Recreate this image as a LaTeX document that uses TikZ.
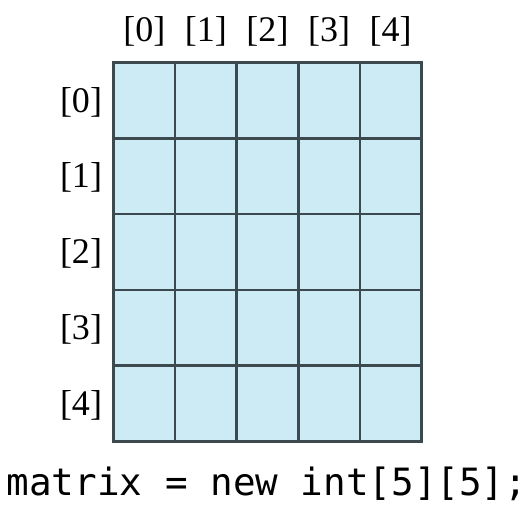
\documentclass[tikz,border=0pt]{standalone}
\usepackage{fontspec}
\setmainfont{Liberation Serif}
\setmonofont{DejaVu Sans Mono}
\definecolor{cellfill}{HTML}{CCEBF4}
\definecolor{cellline}{HTML}{3C4A50}
\begin{document}
\begin{tikzpicture}[x=0.02cm, y=-0.02cm,
  cella/.style={draw=cellline, fill=cellfill, line width=1.4pt,
    minimum width=1.232cm, minimum height=1.516cm, inner sep=0pt,
    outer sep=0pt, anchor=north west},
  indice/.style={font=\fontsize{20.5}{24}\selectfont, inner sep=0pt}]

  \useasboundingbox (0, 0) rectangle (529, 506);

  % --- celle della matrice 5x5 ---
  \foreach \r in {0,...,4} {
    \foreach \c in {0,...,4} {
      \node[cella] (c-\r-\c) at ({113.5+61.6*\c}, {62.5+75.8*\r}) {};
    }
  }

  % --- indici di colonna ---
  \foreach \c in {0,...,4}
    \node[indice] (col-\c) at ({144.3+61.6*\c}, 31) {[\c]};

  % --- indici di riga ---
  \foreach \r in {0,...,4}
    \node[indice] (riga-\r) at (81, {102+75.8*\r}) {[\r]};

  % --- dichiarazione ---
  \node[font=\ttfamily\fontsize{21.4}{25}\selectfont, inner sep=0pt]
    (codice) at (267, 484) {matrix = new int[5][5];};

\end{tikzpicture}
\end{document}
